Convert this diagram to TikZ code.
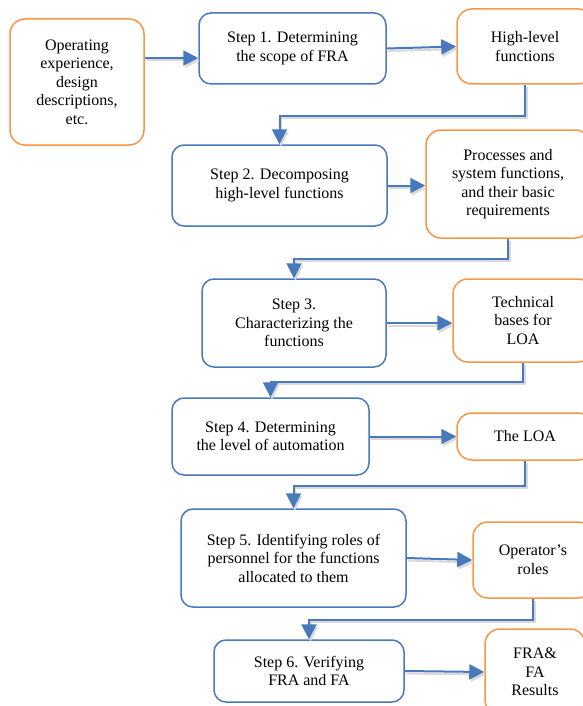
\documentclass[tikz,border=0pt]{standalone}
\usepackage{fontspec}
\setmainfont{Liberation Serif}
\usetikzlibrary{arrows.meta}

\definecolor{stepblue}{RGB}{72,121,188}
\definecolor{resorange}{RGB}{247,150,70}

\tikzset{
    stepbox/.style={draw=stepblue, line width=1.5pt, rounded corners=12pt,
        align=center, fill=white, inner sep=0pt,
        font=\fontsize{16}{18.5}\selectfont},
    resbox/.style={draw=resorange, line width=1.5pt, rounded corners=15pt,
        align=center, fill=white, inner sep=0pt,
        font=\fontsize{16}{18.5}\selectfont},
    flow/.style={draw=stepblue, line width=2pt,
        -{Triangle[length=15pt,width=15pt]},
        preaction={draw=black!15, line width=2pt,
            transform canvas={shift={(1.5pt,-2.5pt)}}}}
}

\begin{document}
\begin{tikzpicture}[x=1pt, y=-1pt]
    \useasboundingbox (0,0) rectangle (582,706);
    % input and steps
    \node[resbox, minimum width=134pt, minimum height=126pt] (input) at (77,82)
        {Operating\\experience,\\design\\descriptions,\\etc.};
    \node[stepbox, minimum width=187pt, minimum height=71pt] (step1) at (292.5,48.5)
        {Step 1. Determining\\the scope of FRA};
    \node[stepbox, minimum width=215pt, minimum height=81pt] (step2) at (279.5,185.5)
        {Step 2. Decomposing\\high-level functions};
    \node[stepbox, minimum width=184pt, minimum height=88pt] (step3) at (294,323)
        {Step 3.\\Characterizing the\\functions};
    \node[stepbox, minimum width=197pt, minimum height=77pt] (step4) at (270.5,436.5)
        {Step 4. Determining\\the level of automation};
    \node[stepbox, minimum width=225pt, minimum height=98pt] (step5) at (293.5,558)
        {Step 5. Identifying roles of\\personnel for the functions\\allocated to them};
    \node[stepbox, minimum width=190pt, minimum height=62pt] (step6) at (309,671)
        {Step 6. Verifying\\FRA and FA};
    % results
    \node[resbox, minimum width=136pt, minimum height=75pt] (out1) at (525,46.5)
        {High-level\\functions};
    \node[resbox, minimum width=164pt, minimum height=108pt] (out2) at (508,184)
        {Processes and\\system functions,\\and their basic\\requirements};
    \node[resbox, minimum width=140pt, minimum height=83pt] (out3) at (523,320.5)
        {Technical\\bases for\\LOA};
    \node[resbox, minimum width=136pt, minimum height=47pt] (out4) at (525,436.5)
        {The LOA};
    \node[resbox, minimum width=120pt, minimum height=76pt] (out5) at (533,560)
        {Operator's\\roles};
    \node[resbox, minimum width=100pt, minimum height=86pt] (out6) at (535,672)
        {FRA\&\\FA\\Results};
    % arrows
    \draw[flow] ([yshift=-9.5pt]step1.west -| input.east) -- ([yshift=-9.5pt]step1.west);
    \draw[flow] (step1.east) -- (out1.west);
    \draw[flow] (step2.east) -- (out2.west |- step2.east);
    \draw[flow] (step3.east) -- (out3.west |- step3.east);
    \draw[flow] (step4.east) -- (out4.west);
    \draw[flow] (step5.east) -- (out5.west);
    \draw[flow] (step6.east) -- (out6.west);
    \draw[flow] (out1.south) -- ++(0,31) -| (step2.north);
    \draw[flow] (out2.south) -- ++(0,20) -| (step3.north);
    \draw[flow] (out3.south) -- ++(0,19) -| (step4.north);
    \draw[flow] (out4.south) -- ++(0,25) -| (step5.north);
    \draw[flow] (out5.south) -- ++(0,21) -| (step6.north);
\end{tikzpicture}
\end{document}
